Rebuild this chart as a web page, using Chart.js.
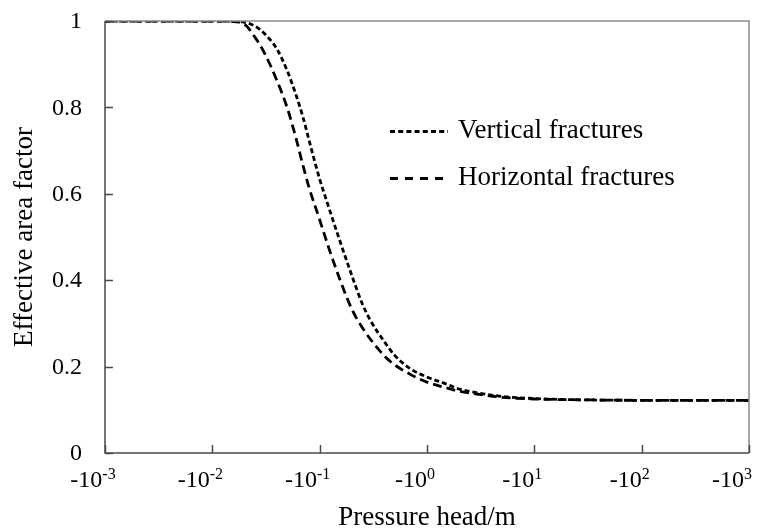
<!DOCTYPE html>
<html>
<head>
<meta charset="utf-8">
<script src="https://cdn.jsdelivr.net/npm/chart.js@4/dist/chart.umd.min.js"></script>
<style>
  html, body { margin: 0; padding: 0; background: #ffffff; }
  canvas { display: block; }
</style>
</head>
<body>
<canvas id="chart" width="759" height="532"></canvas>
<script>
// Pressure head (m) and effective area factor for the two fracture orientations
const pressureHead = [-0.001, -0.003, -0.01, -0.015, -0.02, -0.025, -0.03, -0.04, -0.05, -0.06,
                      -0.07, -0.08, -0.1, -0.12, -0.15, -0.2, -0.25, -0.3, -0.4, -0.5,
                      -0.7, -1, -1.5, -2, -3, -5, -10, -30, -100, -1000];
const verticalFactor = [1.0, 1.0, 1.0, 1.0, 0.997, 0.988, 0.973, 0.935, 0.884, 0.83,
                        0.777, 0.722, 0.634, 0.573, 0.50, 0.41, 0.345, 0.305, 0.258, 0.226,
                        0.195, 0.176, 0.16, 0.148, 0.139, 0.131, 0.126, 0.123, 0.122, 0.122];
const horizontalFactor = [1.0, 1.0, 1.0, 0.999, 0.992, 0.962, 0.93, 0.862, 0.798, 0.73,
                          0.665, 0.613, 0.54, 0.479, 0.41, 0.332, 0.29, 0.262, 0.225, 0.204,
                          0.182, 0.164, 0.151, 0.143, 0.136, 0.129, 0.125, 0.123, 0.122, 0.122];
const seriesNames = ['Vertical fractures', 'Horizontal fractures'];
const decadeExponents = [-3, -2, -1, 0, 1, 2, 3];
const yTickValues = [0, 0.2, 0.4, 0.6, 0.8, 1];

const serif = "'Liberation Serif', 'Times New Roman', serif";
const axisDark = '#4a4a4a';
const axisLight = '#8a8a8a';

// the log axis runs on the magnitude of the (negative) pressure head
const toPoints = (vals) => pressureHead.map((h, i) => ({ x: Math.abs(h), y: vals[i] }));

// axis frame, inward tick marks, tick labels and the in-plot legend
const decorations = {
  id: 'decorations',
  afterDatasetsDraw(chart) {
    const { ctx, chartArea: a, scales: { x, y } } = chart;
    ctx.save();
    ctx.lineCap = 'butt';
    // top and right border
    ctx.strokeStyle = axisLight;
    ctx.lineWidth = 1.5;
    ctx.beginPath();
    ctx.moveTo(a.left, a.top);
    ctx.lineTo(a.right, a.top);
    ctx.lineTo(a.right, a.bottom);
    ctx.stroke();
    // left and bottom axis lines
    ctx.strokeStyle = axisDark;
    ctx.lineWidth = 1.5;
    ctx.beginPath();
    ctx.moveTo(a.left, a.top);
    ctx.lineTo(a.left, a.bottom);
    ctx.lineTo(a.right, a.bottom);
    ctx.stroke();
    // inward ticks
    ctx.beginPath();
    yTickValues.forEach(v => {
      const py = Math.round(y.getPixelForValue(v)) + 0.5;
      ctx.moveTo(a.left, py);
      ctx.lineTo(a.left + 8, py);
    });
    decadeExponents.forEach(e => {
      const px = Math.round(x.getPixelForValue(Math.pow(10, e))) + 0.5;
      ctx.moveTo(px, a.bottom);
      ctx.lineTo(px, a.bottom - 8);
    });
    ctx.stroke();
    ctx.restore();
  },
  afterDraw(chart) {
    const { ctx, chartArea: a, scales: { x, y } } = chart;
    ctx.save();
    ctx.fillStyle = '#000';

    // y tick labels
    ctx.font = '24px ' + serif;
    ctx.textAlign = 'right';
    ctx.textBaseline = 'middle';
    y.ticks.forEach((t, i) => {
      ctx.fillText(String(yTickValues[i]), a.left - 23, y.getPixelForValue(t.value) + 1);
    });

    // x tick labels as -10 with a raised exponent
    ctx.textAlign = 'left';
    ctx.textBaseline = 'alphabetic';
    const baseFont = '24px ' + serif;
    const supFont = '16px ' + serif;
    decadeExponents.forEach(e => {
      const base = '-10';
      const sup = e < 0 ? '-' + (-e) : String(e);
      ctx.font = baseFont;
      const wb = ctx.measureText(base).width;
      ctx.font = supFont;
      const ws = ctx.measureText(sup).width;
      const total = wb + ws;
      const px = x.getPixelForValue(Math.pow(10, e));
      let left = px - 12 - total / 2;
      left = Math.min(left, chart.width - 7 - total);
      ctx.font = baseFont;
      ctx.fillText(base, left, 487);
      ctx.font = supFont;
      ctx.fillText(sup, left + wb, 479);
    });

    // legend drawn inside the plot area
    const rows = [{ lineY: 131.5, textY: 138 }, { lineY: 178.5, textY: 185 }];
    chart.data.datasets.forEach((ds, i) => {
      const r = rows[i];
      ctx.strokeStyle = ds.borderColor;
      ctx.lineWidth = ds.borderWidth;
      ctx.setLineDash(ds.legendDash);
      ctx.beginPath();
      ctx.moveTo(390, r.lineY);
      ctx.lineTo(390 + ds.legendLength, r.lineY);
      ctx.stroke();
      ctx.setLineDash([]);
      ctx.font = '27px ' + serif;
      ctx.fillStyle = '#000';
      ctx.fillText(ds.label, 458, r.textY);
    });
    ctx.restore();
  }
};

new Chart(document.getElementById('chart'), {
  type: 'line',
  data: {
    datasets: [
      {
        label: seriesNames[0],
        data: toPoints(verticalFactor),
        borderColor: '#000',
        borderWidth: 2.8,
        borderDash: [5, 3],
        legendDash: [5, 3.2],
        legendLength: 58,
        pointRadius: 0,
        fill: false,
        cubicInterpolationMode: 'monotone'
      },
      {
        label: seriesNames[1],
        data: toPoints(horizontalFactor),
        borderColor: '#000',
        borderWidth: 2.8,
        borderDash: [9, 5],
        legendDash: [8, 7],
        legendLength: 53,
        pointRadius: 0,
        fill: false,
        cubicInterpolationMode: 'monotone'
      }
    ]
  },
  options: {
    responsive: false,
    animation: false,
    devicePixelRatio: 1,
    layout: { padding: { top: 21, right: 10, left: 0, bottom: 0 } },
    plugins: {
      legend: { display: false },
      tooltip: { enabled: false }
    },
    scales: {
      x: {
        type: 'logarithmic',
        min: 0.001,
        max: 1000,
        afterBuildTicks(s) { s.ticks = decadeExponents.map(e => ({ value: Math.pow(10, e), major: true })); },
        ticks: { display: false },
        grid: { display: false, drawTicks: false },
        border: { display: false },
        afterFit(s) { s.height = 79; },
        title: {
          display: true,
          text: 'Pressure head/m',
          color: '#000',
          font: { family: serif, size: 27, lineHeight: 1 },
          padding: { top: 0, bottom: 0.5 }
        }
      },
      y: {
        min: 0,
        max: 1,
        afterBuildTicks(s) { s.ticks = yTickValues.map(v => ({ value: v })); },
        ticks: { display: false },
        grid: { display: false, drawTicks: false },
        border: { display: false },
        afterFit(s) { s.width = 105; },
        title: {
          display: true,
          text: 'Effective area factor',
          color: '#000',
          font: { family: serif, size: 27, lineHeight: 1 },
          padding: { top: 11.5, bottom: 0 }
        }
      }
    }
  },
  plugins: [decorations]
});
</script>
</body>
</html>
